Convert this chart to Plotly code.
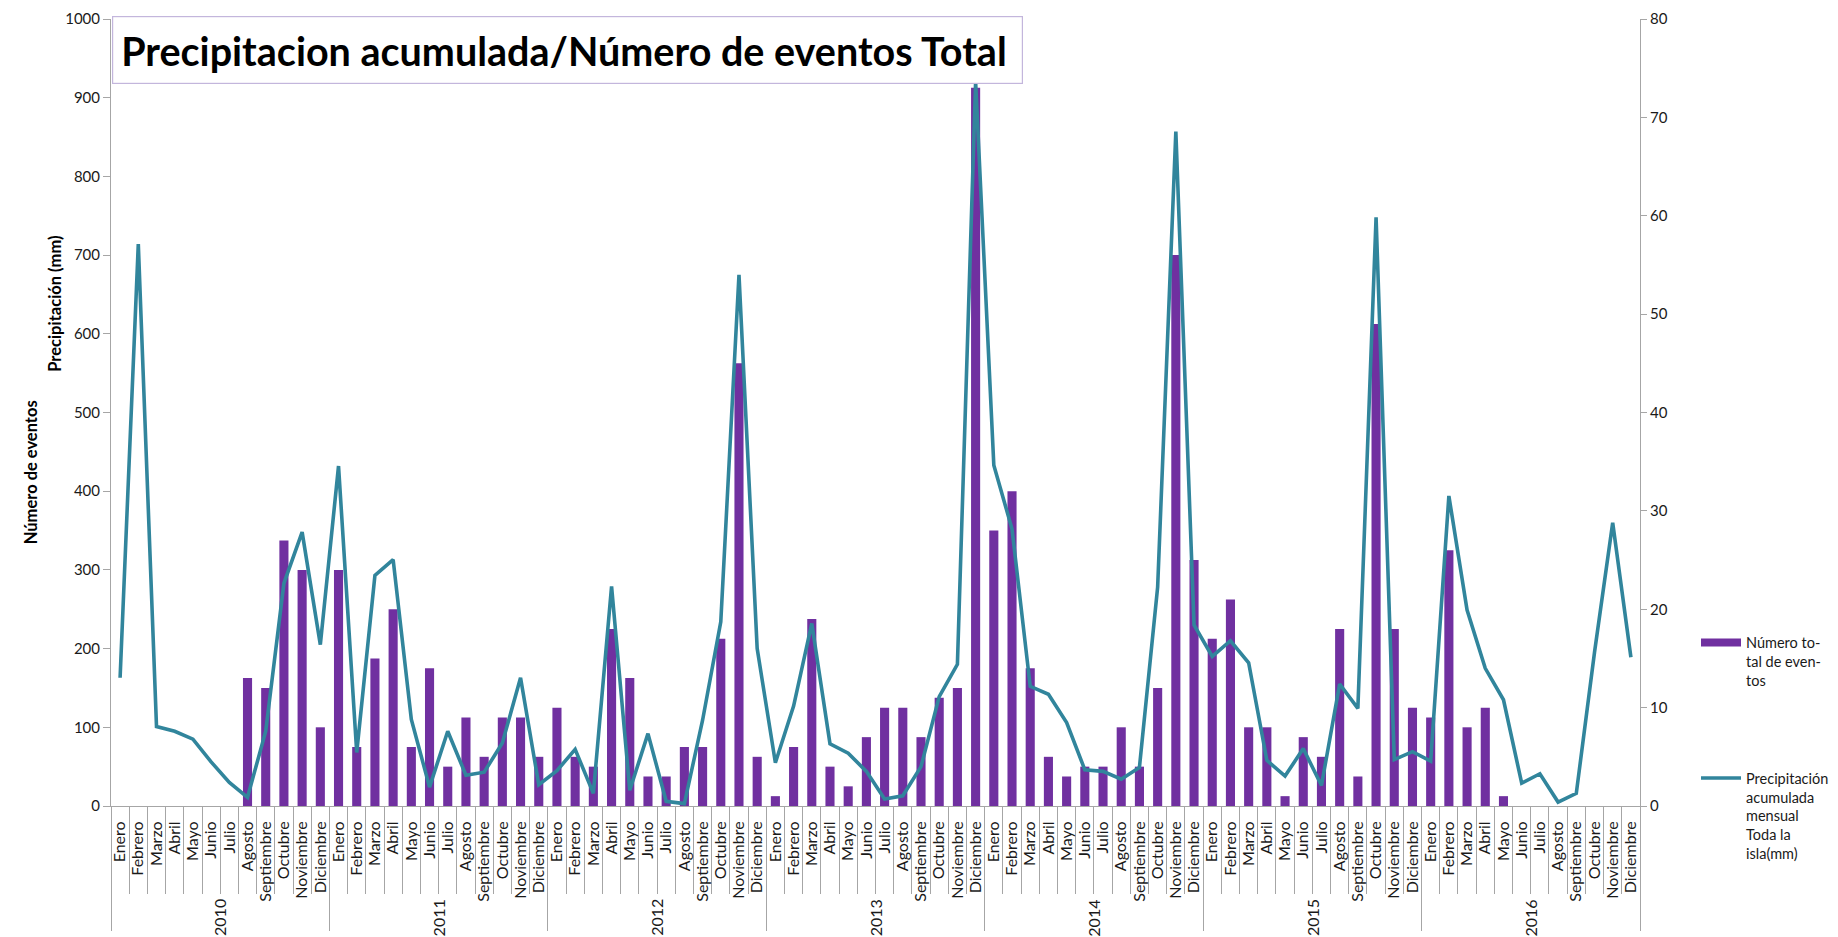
import plotly.graph_objects as go

# ---------------- data ----------------
years = ["2010", "2011", "2012", "2013", "2014", "2015", "2016"]
month_names = ["Enero", "Febrero", "Marzo", "Abril", "Mayo", "Junio", "Julio",
               "Agosto", "Septiembre", "Octubre", "Noviembre", "Diciembre"]

# Número total de eventos (right axis)
eventos_2010 = [0, 0, 0, 0, 0, 0, 0, 13, 12, 27, 24, 8]
eventos_2011 = [24, 6, 15, 20, 6, 14, 4, 9, 5, 9, 9, 5]
eventos_2012 = [10, 5, 4, 18, 13, 3, 3, 6, 6, 17, 45, 5]
eventos_2013 = [1, 6, 19, 4, 2, 7, 10, 10, 7, 11, 12, 73]
eventos_2014 = [28, 32, 14, 5, 3, 4, 4, 8, 4, 12, 56, 25]
eventos_2015 = [17, 21, 8, 8, 1, 7, 5, 18, 3, 49, 18, 10]
eventos_2016 = [9, 26, 8, 10, 1, 0, 0, 0, 0, 0, 0, 0]

# Precipitación acumulada mensual, toda la isla (mm) (left axis)
precip_2010 = [163, 714, 101, 95, 85, 56, 30, 11, 95, 283, 348, 205]
precip_2011 = [432, 68, 293, 313, 110, 24, 95, 39, 43, 80, 163, 27]
precip_2012 = [45, 72, 16, 279, 20, 92, 6, 3, 109, 234, 675, 200]
precip_2013 = [55, 127, 232, 79, 67, 44, 9, 13, 50, 139, 180, 920]
precip_2014 = [433, 352, 152, 142, 106, 46, 44, 34, 49, 278, 857, 230]
precip_2015 = [190, 210, 182, 58, 38, 73, 26, 155, 124, 748, 59, 69]
precip_2016 = [57, 394, 249, 175, 135, 29, 41, 5, 16, 195, 360, 189]

eventos = (eventos_2010 + eventos_2011 + eventos_2012 + eventos_2013 +
           eventos_2014 + eventos_2015 + eventos_2016)
precip = (precip_2010 + precip_2011 + precip_2012 + precip_2013 +
          precip_2014 + precip_2015 + precip_2016)
month_labels = month_names * len(years)
idx = list(range(len(month_labels)))
n = len(idx)
nm = len(month_names)

name_eventos = "Número to-<br>tal de even-<br>tos"
name_precip = "Precipitación<br>acumulada<br>mensual<br>Toda la<br>isla(mm)"

# ---------------- style ----------------
F = "Lato"
AX = "#a6a6a6"
TXT = "#1a1a1a"
BAR = "#7030A0"
LINE = "#31859C"

fig = go.Figure()

fig.add_trace(go.Bar(
    x=idx, y=eventos, name=name_eventos,
    marker=dict(color=BAR, line=dict(width=0)), width=0.5,
    xaxis="x", yaxis="y", showlegend=False,
))
fig.add_trace(go.Scatter(
    x=idx, y=precip, mode="lines", name=name_precip,
    line=dict(color=LINE, width=3.6), xaxis="x", yaxis="y2", showlegend=False,
))
# legend keys (Excel-style wide keys)
fig.add_trace(go.Scatter(x=[None], y=[None], mode="lines", name=name_eventos,
                         line=dict(color=BAR, width=8), xaxis="x", yaxis="y",
                         legendgroup="a", hoverinfo="skip"))
fig.add_trace(go.Scatter(x=[None], y=[None], mode="lines", name=name_precip,
                         line=dict(color=LINE, width=3.6), xaxis="x", yaxis="y",
                         legendgroup="b", hoverinfo="skip"))
# carrier for the year-divider axis
fig.add_trace(go.Scatter(x=[None], y=[None], xaxis="x2", yaxis="y",
                         showlegend=False, hoverinfo="skip"))

month_bounds = [i - 0.5 for i in range(n + 1)]
year_bounds = [i * nm - 0.5 for i in range(len(years) + 1)]

annotations = []
for k, yr in enumerate(years):
    annotations.append(dict(
        x=k * nm + (nm - 1) / 2, xref="x", y=-0.142, yref="paper",
        text=yr, textangle=-90, showarrow=False, xanchor="center", yanchor="middle",
        font=dict(family=F, size=16, color=TXT)))

annotations += [
    dict(x=0.0007, y=1.0038, xref="paper", yref="paper", xanchor="left", yanchor="top",
         text="<b>Precipitacion acumulada/Número de eventos Total</b>", showarrow=False,
         align="left", valign="middle", width=893, height=50, borderpad=8,
         bordercolor="#c3b6dc", borderwidth=1.2, bgcolor="white",
         font=dict(family=F, size=39.5, color="black")),
    dict(x=-0.0445, y=0.638, xref="paper", yref="paper", text="<b>Precipitación (mm)</b>",
         textangle=-90, showarrow=False, font=dict(family=F, size=16.5, color="black")),
    dict(x=-0.0602, y=0.424, xref="paper", yref="paper", text="<b>Número de eventos</b>",
         textangle=-90, showarrow=False, font=dict(family=F, size=16.5, color="black")),
]

fig.update_layout(
    width=1838, height=937,
    margin=dict(l=111, r=198, t=19, b=131, autoexpand=False),
    paper_bgcolor="white", plot_bgcolor="white",
    font=dict(family=F, size=15, color=TXT),
    showlegend=True,
    legend=dict(xref="container", x=1696 / 1838, y=0.228, xanchor="left", yanchor="top",
                valign="top", itemwidth=40, tracegroupgap=76, traceorder="grouped",
                font=dict(family=F, size=14.5, color=TXT), bgcolor="rgba(0,0,0,0)"),
    xaxis=dict(range=[-0.5, n - 0.5], tickmode="array", tickvals=idx, ticktext=month_labels,
               tickangle=-90, ticks="", showline=True, linecolor=AX, linewidth=1,
               showgrid=False, zeroline=False, ticklabelstandoff=8,
               tickfont=dict(family=F, size=16, color=TXT),
               minor=dict(tickmode="array", tickvals=month_bounds, ticks="outside",
                          ticklen=87, tickcolor=AX, tickwidth=1, showgrid=False),
               anchor="y"),
    xaxis2=dict(range=[-0.5, n - 0.5], overlaying="x", anchor="y", side="bottom",
                tickmode="array", tickvals=year_bounds, ticktext=[""] * len(year_bounds),
                ticks="outside", ticklen=124, tickcolor=AX, tickwidth=1,
                showline=False, showgrid=False, zeroline=False, showticklabels=False),
    yaxis=dict(range=[0, 80], dtick=10, side="right", ticks="outside", ticklen=6,
               tickcolor=AX, showline=True, linecolor=AX, linewidth=1, showgrid=False,
               zeroline=False, tickfont=dict(family=F, size=15, color=TXT)),
    yaxis2=dict(range=[0, 1000], dtick=100, side="left", overlaying="y", ticks="outside",
                ticklen=7, tickcolor=AX, showline=True, linecolor=AX, linewidth=1,
                showgrid=False, zeroline=False, tickfont=dict(family=F, size=15, color=TXT)),
    annotations=annotations,
)

fig.write_html("out.html")
